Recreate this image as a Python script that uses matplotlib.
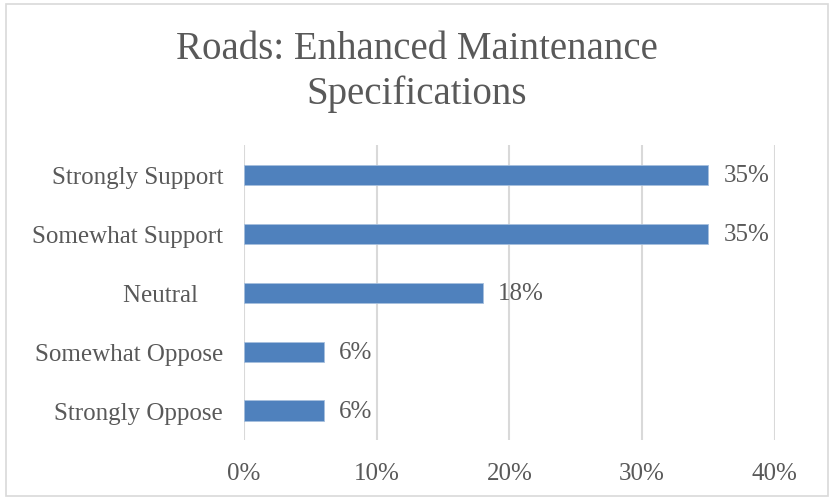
import matplotlib.pyplot as plt
from matplotlib.patches import Rectangle

# survey responses, top to bottom as shown
categories = ["Strongly Support", "Somewhat Support", "Neutral    ", "Somewhat Oppose", "Strongly Oppose"]
shares = [35, 35, 18, 6, 6]
xticks = [0, 10, 20, 30, 40]

text_color = "#595959"
bar_color = "#4F81BD"
grid_color = "#D9D9D9"

plt.rcParams["font.family"] = ["Liberation Serif", "DejaVu Serif"]

fig = plt.figure(figsize=(8.34, 5.02), dpi=100)
ax = fig.add_axes([0.2926, 0.1215, 0.6364, 0.5875])

ypos = list(range(len(categories)))[::-1]
ax.barh(ypos, shares, height=0.34, color=bar_color, edgecolor="#A7C0DE", linewidth=0.6, zorder=3)

for y, v in zip(ypos, shares):
    ax.annotate(f"{v}%", (v, y), xytext=(11, 0), textcoords="offset points",
                va="center", ha="left", fontsize=18, color=text_color)

ax.set_xlim(0, 40)
ax.set_ylim(-0.5, 4.5)
ax.set_xticks(xticks)
ax.set_xticklabels([f"{t}%" for t in xticks], fontsize=18, color=text_color)
ax.set_yticks(ypos)
ax.set_yticklabels(categories, fontsize=18, color=text_color)
ax.tick_params(length=0, pad=16, axis="x")
ax.tick_params(length=0, pad=15, axis="y")
ax.xaxis.grid(True, color=grid_color, linewidth=1.5, zorder=0)
for s in ax.spines.values():
    s.set_visible(False)

fig.text(0.5, 0.857, "Roads: Enhanced Maintenance\nSpecifications", ha="center", va="center",
         fontsize=28, color=text_color, linespacing=1.25)

# light chart border
fig.patches.append(Rectangle((0.007, 0.01), 0.986, 0.98, transform=fig.transFigure,
                             fill=False, edgecolor="#D9D9D9", linewidth=1.2))

fig.savefig("out.png", dpi=100)
